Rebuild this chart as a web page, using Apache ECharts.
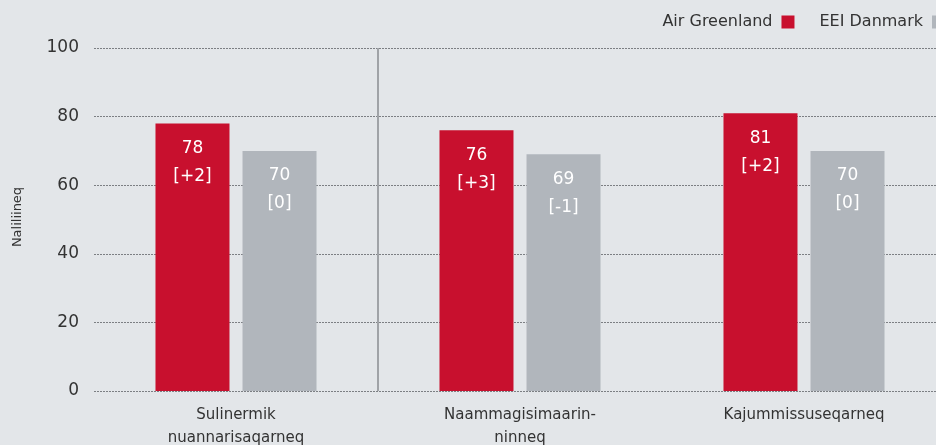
<!DOCTYPE html>
<html>
<head>
<meta charset="utf-8">
<script src="https://cdn.jsdelivr.net/npm/echarts@6/dist/echarts.min.js"></script>
<style>
html,body{margin:0;padding:0;background:#e3e6e9;}
#c{width:936px;height:445px;}
</style>
</head>
<body>
<div id="c"></div>
<script>
const categories = ["Sulinermik\nnuannarisaqarneq", "Naammagisimaarin-\nninneq", "Kajummissuseqarneq"];
const seriesNames = ["Air Greenland", "EEI Danmark"];
const airGreenland = [78, 76, 81];
const airGreenlandChange = ["+2", "+3", "+2"];
const eeiDanmark = [70, 69, 70];
const eeiDanmarkChange = ["0", "-1", "0"];
const yTicks = [0, 20, 40, 60, 80, 100];
const yAxisName = "Naliliineq";
const separatorAfterCategory = 1;

const FONT = "DejaVu Sans";
const chart = echarts.init(document.getElementById('c'));

function labelFor(changes) {
  return {
    show: true,
    position: 'insideTop',
    distance: 11,
    color: '#ffffff',
    fontFamily: FONT,
    fontSize: 17,
    lineHeight: 28,
    formatter: p => p.value + '\n[' + changes[p.dataIndex] + ']'
  };
}

chart.setOption({
  backgroundColor: '#e3e6e9',
  animation: false,
  textStyle: { fontFamily: FONT },
  legend: {
    right: -14,
    top: 9,
    align: 'right',
    itemWidth: 13,
    itemHeight: 13,
    itemGap: 25,
    icon: 'rect',
    textStyle: { color: '#333333', fontSize: 16, fontFamily: FONT, padding: [0, 4, 0, 0] },
    data: seriesNames
  },
  grid: { left: 94, top: 48, width: 852, bottom: 54, containLabel: false, outerBoundsMode: 'none' },
  xAxis: [
    {
      type: 'category',
      data: categories,
      axisLine: { show: false },
      axisTick: { show: false },
      axisLabel: { color: '#333333', fontSize: 15, fontFamily: FONT, lineHeight: 23, margin: 13, interval: 0 },
      splitLine: { show: false }
    },
    {
      type: 'value',
      min: 0,
      max: categories.length,
      show: false
    }
  ],
  yAxis: {
    type: 'value',
    min: yTicks[0],
    max: yTicks[yTicks.length - 1],
    interval: 20,
    name: yAxisName,
    nameLocation: 'middle',
    nameGap: 70,
    nameTextStyle: { color: '#333333', fontSize: 13, fontFamily: FONT, padding: [0, 0, 0, 5] },
    axisLine: { show: false },
    axisTick: { show: false },
    axisLabel: { color: '#333333', fontSize: 17, fontFamily: FONT, margin: 15 },
    splitLine: { show: true, lineStyle: { color: '#7c7f83', type: [2, 1], width: 1 } }
  },
  series: [
    {
      name: seriesNames[0],
      type: 'bar',
      data: airGreenland,
      barWidth: 74,
      barGap: '17.6%',
      itemStyle: { color: '#c8102e' },
      label: labelFor(airGreenlandChange)
    },
    {
      name: seriesNames[1],
      type: 'bar',
      data: eeiDanmark,
      barWidth: 74,
      itemStyle: { color: '#b1b6bc' },
      label: labelFor(eeiDanmarkChange)
    },
    {
      type: 'line',
      xAxisIndex: 1,
      data: [],
      silent: true,
      markLine: {
        symbol: 'none',
        silent: true,
        label: { show: false },
        lineStyle: { color: '#a0a3a7', width: 2, type: 'solid' },
        data: [{ xAxis: separatorAfterCategory }]
      }
    }
  ]
});
</script>
</body>
</html>
